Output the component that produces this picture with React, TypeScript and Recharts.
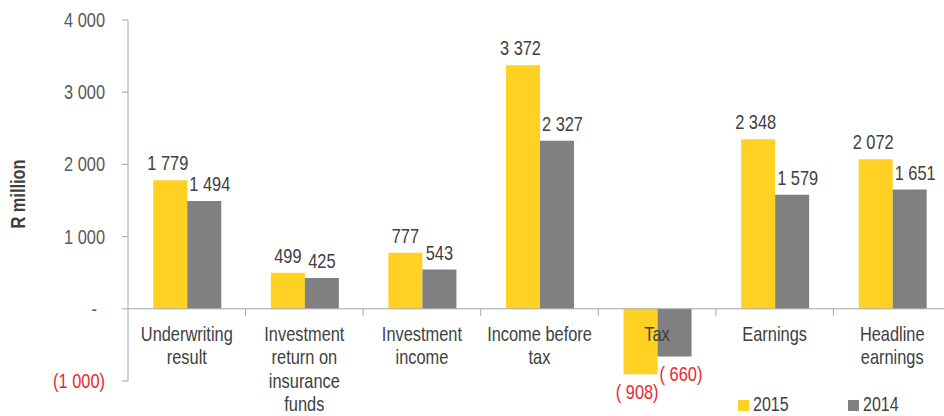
import { BarChart, Bar, XAxis, YAxis, Legend, LabelList, ReferenceLine } from 'recharts'

const categories = [
  'Underwriting\nresult',
  'Investment\nreturn on\ninsurance\nfunds',
  'Investment\nincome',
  'Income before\ntax',
  'Tax',
  'Earnings',
  'Headline\nearnings',
]
const values2015 = [1779, 499, 777, 3372, -908, 2348, 2072]
const values2014 = [1494, 425, 543, 2327, -660, 1579, 1651]
const seriesNames = ['2015', '2014']
const seriesColors = ['#FFD122', '#808080']
const yTicks = [-1000, 0, 1000, 2000, 3000, 4000]

const data = categories.map((name, i) => ({ name, y2015: values2015[i], y2014: values2014[i] }))

// no narrow font installed: squeeze Liberation Sans to Arial Narrow proportions
const FONT = '"Liberation Sans", Arial, sans-serif'
const NARROW = 0.82
const W = 951
const H = 416
const TOP = 20
const Y_AXIS_W = 128
const LEGEND_H = 24
const X_AXIS_H = 11
const PLOT_H = H - TOP - LEGEND_H - X_AXIS_H
const ZERO_Y = TOP + (PLOT_H * 4000) / 5000
const BAND = (W - Y_AXIS_W) / categories.length
const RED = '#E8282D'
const AXIS = '#A6A6A6'

const thousands = (v: number) => String(Math.abs(v)).replace(/\B(?=(\d{3})+(?!\d))/g, ' ')
const fmtBar = (v: number) => (v < 0 ? `( ${thousands(v)})` : thousands(v))
const fmtTick = (v: number) => (v === 0 ? '-' : v < 0 ? `(${thousands(v)})` : thousands(v))

type NTProps = {
  x: number
  y: number
  anchor?: 'start' | 'middle' | 'end'
  fill?: string
  size?: number
  weight?: string
  rotate?: number
  dy?: string
  children: any
}

function NarrowText({ x, y, anchor = 'start', fill = '#404040', size = 20, weight, rotate, dy, children }: NTProps) {
  const rot = rotate ? ` rotate(${rotate})` : ''
  return (
    <g transform={`translate(${x} ${y})${rot} scale(${NARROW} 1)`}>
      <text
        x={0}
        y={0}
        dy={dy}
        textAnchor={anchor}
        fill={fill}
        fontFamily={FONT}
        fontSize={size}
        fontWeight={weight}
        style={{ whiteSpace: 'pre' }}
      >
        {children}
      </text>
    </g>
  )
}

function YTick({ x, y, payload }: any) {
  const v = payload.value
  return (
    <NarrowText x={v === 0 ? x - 8 : x} y={y} dy="0.35em" anchor="end" fill={v < 0 ? RED : '#595959'}>
      {fmtTick(v)}
    </NarrowText>
  )
}

function XTick({ x, payload }: any) {
  const lines = String(payload.value).split('\n')
  const bx = x + BAND / 2
  return (
    <g>
      <line x1={bx} x2={bx} y1={ZERO_Y} y2={ZERO_Y + 7} stroke={AXIS} />
      <NarrowText x={x} y={ZERO_Y + 32} anchor="middle">
        {lines.map((l, i) => (
          <tspan key={i} x={0} dy={i === 0 ? 0 : 23.5}>
            {l}
          </tspan>
        ))}
      </NarrowText>
    </g>
  )
}

const barLabel = (series: number) => (props: any) => {
  const { x, y, width, height, value } = props
  const top = Math.min(y, y + height)
  const bottom = Math.max(y, y + height)
  const text = fmtBar(value)
  const wide = text.length > 3
  let tx = x + width / 2
  let anchor: 'middle' | 'start' | 'end' = 'middle'
  if (wide && series === 0) {
    tx = x + width + 1
    anchor = 'end'
  } else if (wide && series === 1) {
    tx = x + 2
    anchor = 'start'
  }
  const ty = value < 0 ? bottom + 25 : top - 10
  return (
    <NarrowText x={tx} y={ty} anchor={anchor} fill={value < 0 ? RED : '#404040'}>
      {text}
    </NarrowText>
  )
}

function LegendContent() {
  return (
    <svg width={220} height={LEGEND_H} style={{ display: 'block' }}>
      {seriesNames.map((n, i) => (
        <g key={n}>
          <rect x={3 + i * 110} y={8} width={11} height={11} fill={seriesColors[i]} />
          <NarrowText x={18 + i * 110} y={19} size={19.5}>
            {n}
          </NarrowText>
        </g>
      ))}
    </svg>
  )
}

export default function App() {
  return (
    <div style={{ position: 'absolute', left: 0, top: 0, width: 944, height: 416, overflow: 'hidden', background: '#fff' }}>
      <BarChart
        width={W}
        height={H}
        data={data}
        margin={{ top: TOP, right: 0, bottom: 0, left: 0 }}
        barCategoryGap="21.5%"
        barGap={0}
        style={{ fontFamily: FONT }}
      >
        <YAxis
          width={Y_AXIS_W}
          domain={[-1000, 4000]}
          ticks={yTicks}
          interval={0}
          tickSize={6}
          tickMargin={17}
          stroke={AXIS}
          tick={<YTick />}
          label={() => (
            <NarrowText x={25} y={194} rotate={-90} anchor="middle" weight="bold">
              R million
            </NarrowText>
          )}
        />
        <ReferenceLine y={0} stroke={AXIS} strokeWidth={1} />
        <Bar dataKey="y2015" name={seriesNames[0]} fill={seriesColors[0]} isAnimationActive={false}>
          <LabelList dataKey="y2015" content={barLabel(0)} />
        </Bar>
        <Bar dataKey="y2014" name={seriesNames[1]} fill={seriesColors[1]} isAnimationActive={false}>
          <LabelList dataKey="y2014" content={barLabel(1)} />
        </Bar>
        <XAxis
          dataKey="name"
          height={X_AXIS_H}
          interval={0}
          axisLine={false}
          tickLine={false}
          tick={<XTick />}
        />
        <Legend
          verticalAlign="bottom"
          height={LEGEND_H}
          wrapperStyle={{ left: 735, bottom: 0, width: 220, height: LEGEND_H }}
          content={<LegendContent />}
        />
      </BarChart>
    </div>
  )
}
